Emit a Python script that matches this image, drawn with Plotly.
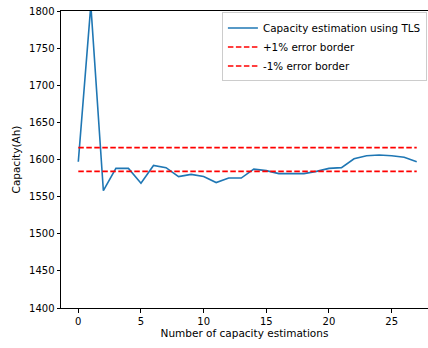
import plotly.graph_objects as go

estimation_index = list(range(28))
capacity_tls = [1597, 1808, 1558, 1588, 1588, 1568, 1592, 1589, 1577, 1580, 1577, 1569,
                1575, 1575, 1587, 1585, 1581, 1581, 1581, 1584, 1588, 1589, 1601, 1605,
                1606, 1605, 1603, 1597]
nominal = 1600
upper_border = [nominal * 1.01, nominal * 1.01]
lower_border = [nominal * 0.99, nominal * 0.99]
border_x = [0, 27]

font = "DejaVu Sans"

fig = go.Figure()
fig.add_trace(go.Scatter(x=estimation_index, y=capacity_tls, mode="lines",
                         name="Capacity estimation using TLS",
                         line=dict(color="#1f77b4", width=1.6)))
fig.add_trace(go.Scatter(x=border_x, y=upper_border, mode="lines",
                         name="+1% error border",
                         line=dict(color="#ff0000", width=1.6, dash="5.5px,2.5px")))
fig.add_trace(go.Scatter(x=border_x, y=lower_border, mode="lines",
                         name="-1% error border",
                         line=dict(color="#ff0000", width=1.6, dash="5.5px,2.5px")))

fig.update_layout(
    width=428, height=348,
    margin=dict(l=61, r=0, t=11, b=40),
    plot_bgcolor="white", paper_bgcolor="white",
    font=dict(family=font, size=10, color="black"),
    showlegend=True,
    legend=dict(x=0.997, y=0.995, xanchor="right", yanchor="top",
                bgcolor="rgba(255,255,255,0.8)", bordercolor="#cccccc", borderwidth=1,
                font=dict(size=10.4), tracegroupgap=0, itemwidth=30),
    xaxis=dict(range=[-1.38, 27.9], tickvals=[0, 5, 10, 15, 20, 25],
               showgrid=False, zeroline=False, showline=True, linecolor="black",
               linewidth=1, mirror=True, ticks="outside", ticklen=3.5, tickcolor="black",
               title=dict(text="Number of capacity estimations", font=dict(size=10.5), standoff=4)),
    yaxis=dict(range=[1400, 1800], tickvals=[1400, 1450, 1500, 1550, 1600, 1650, 1700, 1750, 1800],
               showgrid=False, zeroline=False, showline=True, linecolor="black",
               linewidth=1, ticks="outside", ticklen=3.5, tickcolor="black",
               title=dict(text="Capacity(Ah)", font=dict(size=10.5), standoff=6)),
)

fig.write_html("out.html", config={"displayModeBar": False},
               post_script="document.body.style.margin='0px';document.body.style.overflow='hidden';")
